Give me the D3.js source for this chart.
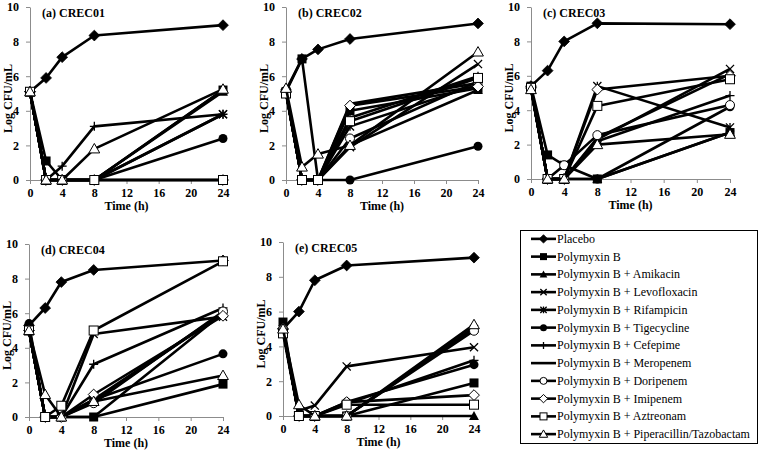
<!DOCTYPE html>
<html><head><meta charset="utf-8">
<script src="https://cdn.jsdelivr.net/npm/d3@7"></script>
<style>body{margin:0;background:#fff}svg{display:block}svg text{font-family:"Liberation Serif","Times New Roman",Times,"DejaVu Serif",serif}</style>
</head><body>
<svg id="c" width="760" height="450"></svg>
<script>
const times = [0, 2, 4, 8, 24];
const xTicks = [0, 4, 8, 12, 16, 20, 24];
const yTicks = [0, 2, 4, 6, 8, 10];
const seriesNames = ["Placebo","Polymyxin B","Polymyxin B + Amikacin","Polymyxin B + Levofloxacin","Polymyxin B + Rifampicin","Polymyxin B + Tigecycline","Polymyxin B + Cefepime","Polymyxin B + Meropenem","Polymyxin B + Doripenem","Polymyxin B + Imipenem","Polymyxin B + Aztreonam","Polymyxin B + Piperacillin/Tazobactam"];
const markerTypes = ["diamondF","squareF","triangleF","x","star","circleF","plus","none","circleO","diamondO","squareO","triangleO"];
const panelTitles = ["(a) CREC01","(b) CREC02","(c) CREC03","(d) CREC04","(e) CREC05"];

const crec01 = [
  [5.1, 5.9, 7.1, 8.35, 8.95],
  [5.1, 1.1, 0, 0, 5.2],
  [5.1, 0, 0, 0, 5.1],
  [5.1, 0, 0, 0, 3.8],
  [5.1, 0, 0, 0, 3.8],
  [5.1, 0, 0, 0, 2.4],
  [5.1, 0, 0.8, 3.1, 3.8],
  [5.1, 0, 0, 0, 5.2],
  [5.1, 0, 0, 0, 0],
  [5.1, 0, 0, 0, 0],
  [5.1, 0, 0, 0, 0],
  [5.1, 0, 0, 1.8, 5.25]
];
const crec02 = [
  [5.2, 7.0, 7.55, 8.15, 9.05],
  [5.1, 7.0, 0, 4.0, 5.3],
  [5.1, 0, 0, 2.0, 5.2],
  [5.1, 0, 0, 1.9, 6.7],
  [5.1, 0, 0, 3.1, 5.5],
  [5.1, 0, 0, 0, 1.95],
  [5.1, 0, 0, 3.6, 6.0],
  [5.1, 0, 0, 4.4, 5.6],
  [5.1, 0, 0, 2.4, 5.7],
  [5.1, 0, 0, 4.3, 5.4],
  [5.0, 0, 0, 3.4, 5.9],
  [5.3, 0.75, 1.5, 2.0, 7.4]
];
const crec03 = [
  [5.4, 6.3, 8.0, 9.05, 9.0],
  [5.4, 1.4, 0.8, 0, 2.7],
  [5.3, 0, 0, 0, 2.7],
  [5.3, 0, 0, 2.3, 6.4],
  [5.3, 0, 0, 5.4, 3.0],
  [5.3, 0, 0, 0, 4.2],
  [5.3, 0, 0, 2.2, 4.85],
  [5.3, 0, 0, 2.4, 6.1],
  [5.3, 0, 0.8, 2.55, 4.3],
  [5.3, 0, 0, 5.2, 6.0],
  [5.3, 0, 0, 4.25, 5.8],
  [5.2, 0, 0, 2.0, 2.6]
];
const crec04 = [
  [5.3, 6.3, 7.8, 8.5, 9.05],
  [5.0, 0, 0, 0, 1.9],
  [5.0, 0, 0, 0.9, 6.0],
  [5.0, 0, 0, 4.8, 5.8],
  [5.0, 0, 0, 1.0, 6.0],
  [5.4, 0, 0, 1.0, 3.65],
  [5.0, 0, 0, 3.05, 6.3],
  [5.0, 0, 0, 0, 6.0],
  [5.0, 0, 0, 0.8, 6.1],
  [5.0, 0, 0, 1.3, 5.85],
  [5.0, 0, 0.65, 5.0, 9.0],
  [5.0, 1.3, 0, 0.9, 2.4]
];
const crec05 = [
  [5.0, 6.0, 7.8, 8.65, 9.1],
  [5.4, 0, 0, 0, 1.9],
  [5.0, 0, 0, 0, 0],
  [5.0, 0.3, 0.6, 2.85, 3.95],
  [5.0, 0, 0, 0, 5.0],
  [5.0, 0, 0, 0.8, 2.95],
  [5.0, 0, 0, 0.7, 3.2],
  [5.0, 0, 0, 0, 5.1],
  [5.0, 0, 0, 0, 4.9],
  [5.0, 0, 0, 0.8, 1.2],
  [4.75, 0, 0, 0.65, 0.65],
  [5.0, 0.65, 0, 0, 5.25]
];
const panelData = [crec01, crec02, crec03, crec04, crec05];

const layouts = [
  {x0:30, x1:223, y0:180, y1:7},
  {x0:286, x1:478, y0:180, y1:7},
  {x0:531, x1:730, y0:179, y1:7},
  {x0:29, x1:223, y0:417, y1:244},
  {x0:283, x1:474, y0:416, y1:242}
];

const svg = d3.select("#c");

function drawMarker(g, type, x, y, size) {
  const s = size;
  switch(type) {
    case "diamondF":
      g.append("path").attr("d", `M${x},${y-s*0.6}L${x+s*0.6},${y}L${x},${y+s*0.6}L${x-s*0.6},${y}Z`).attr("fill","#000").attr("stroke","#000").attr("stroke-width",0.8); break;
    case "diamondO":
      g.append("path").attr("d", `M${x},${y-s*0.6}L${x+s*0.6},${y}L${x},${y+s*0.6}L${x-s*0.6},${y}Z`).attr("fill","#fff").attr("stroke","#000").attr("stroke-width",1); break;
    case "squareF":
      g.append("rect").attr("x",x-s/2).attr("y",y-s/2).attr("width",s).attr("height",s).attr("fill","#000"); break;
    case "squareO":
      g.append("rect").attr("x",x-s/2).attr("y",y-s/2).attr("width",s).attr("height",s).attr("fill","#fff").attr("stroke","#000").attr("stroke-width",1); break;
    case "triangleF":
      g.append("path").attr("d", `M${x},${y-s*0.55}L${x+s*0.55},${y+s*0.45}L${x-s*0.55},${y+s*0.45}Z`).attr("fill","#000"); break;
    case "triangleO":
      g.append("path").attr("d", `M${x},${y-s*0.6}L${x+s*0.6},${y+s*0.45}L${x-s*0.6},${y+s*0.45}Z`).attr("fill","#fff").attr("stroke","#000").attr("stroke-width",1); break;
    case "circleF":
      g.append("circle").attr("cx",x).attr("cy",y).attr("r",s/2).attr("fill","#000"); break;
    case "circleO":
      g.append("circle").attr("cx",x).attr("cy",y).attr("r",s/2).attr("fill","#fff").attr("stroke","#000").attr("stroke-width",1); break;
    case "x": {
      const h = s*0.45;
      g.append("path").attr("d",`M${x-h},${y-h}L${x+h},${y+h}M${x-h},${y+h}L${x+h},${y-h}`).attr("stroke","#000").attr("stroke-width",1.3); break; }
    case "star": {
      const h = s*0.45;
      g.append("path").attr("d",`M${x-h},${y-h}L${x+h},${y+h}M${x-h},${y+h}L${x+h},${y-h}M${x},${y-h*1.1}L${x},${y+h*1.1}`).attr("stroke","#000").attr("stroke-width",1.3); break; }
    case "plus": {
      const h = s*0.5;
      g.append("path").attr("d",`M${x-h},${y}L${x+h},${y}M${x},${y-h}L${x},${y+h}`).attr("stroke","#000").attr("stroke-width",1.3); break; }
    default: break;
  }
}

panelData.forEach((data, pi) => {
  const L = layouts[pi];
  const x = d3.scaleLinear().domain([0,24]).range([L.x0, L.x1]);
  const y = d3.scaleLinear().domain([0,10]).range([L.y0, L.y1]);
  const g = svg.append("g");

  const xAxis = d3.axisBottom(x).tickValues(xTicks).tickSize(4).tickSizeOuter(0);
  const yAxis = d3.axisLeft(y).tickValues(yTicks).tickSize(4).tickSizeOuter(0);
  const gx = g.append("g").attr("transform",`translate(0,${L.y0})`).call(xAxis);
  const gy = g.append("g").attr("transform",`translate(${L.x0},0)`).call(yAxis);
  [gx, gy].forEach(a => {
    a.attr("font-family", null);
    a.select(".domain").attr("stroke","#8c8c8c").attr("stroke-width",1);
    a.selectAll(".tick line").attr("stroke","#8c8c8c");
    a.selectAll(".tick text").attr("font-weight","bold").attr("font-size",12).attr("fill","#000");
  });
  gx.selectAll(".tick text").attr("dy","0.95em").attr("y",6);
  gy.selectAll(".tick text").attr("x",-11);

  g.append("text").attr("x",(L.x0+L.x1)/2).attr("y",L.y0+30).attr("text-anchor","middle")
    .attr("font-weight","bold").attr("font-size",12).text("Time (h)");
  g.append("text").attr("transform",`translate(${L.x0-18},${(L.y0+L.y1)/2+5}) rotate(-90)`).attr("text-anchor","middle")
    .attr("font-weight","bold").attr("font-size",12).text("Log CFU/mL");
  g.append("text").attr("x",L.x0+12).attr("y",L.y1+10).attr("font-weight","bold").attr("font-size",12).text(panelTitles[pi]);

  const line = d3.line().x((d,i)=>x(times[i])).y(d=>y(d));
  data.forEach((vals, si) => {
    const sg = g.append("g");
    sg.append("path").attr("d", line(vals)).attr("fill","none").attr("stroke","#000").attr("stroke-width",2.6).attr("stroke-linejoin","round");
    vals.forEach((v,i) => drawMarker(sg, markerTypes[si], x(times[i]), y(v), 9));
  });
});

const lg = svg.append("g");
lg.append("rect").attr("x",520.5).attr("y",230.5).attr("width",237).attr("height",213).attr("fill","#fff").attr("stroke","#000").attr("stroke-width",1);
const ly = d3.scaleBand().domain(seriesNames).range([230, 443]);
seriesNames.forEach((name, si) => {
  const yy = ly(name) + ly.bandwidth()/2;
  lg.append("line").attr("x1",531).attr("x2",556).attr("y1",yy).attr("y2",yy).attr("stroke","#000").attr("stroke-width",2.6);
  drawMarker(lg, markerTypes[si], 543.5, yy, 7);
  lg.append("text").attr("x",557).attr("y",yy+4).attr("font-size",12).text(name);
});
</script>
</body></html>
